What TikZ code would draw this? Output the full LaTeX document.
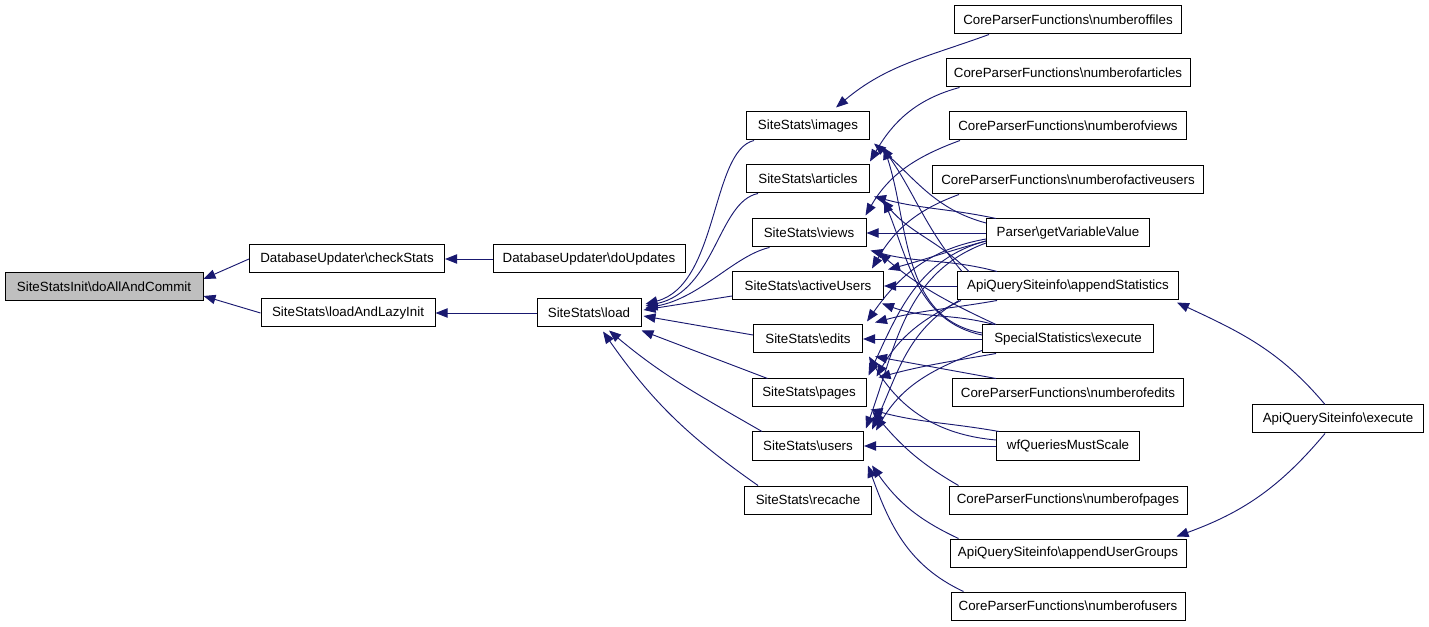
\documentclass[tikz,border=0pt]{standalone}
\usepackage{fontspec}
\setmainfont{Liberation Sans}
\usetikzlibrary{arrows.meta,calc}
\definecolor{navy}{HTML}{191970}
\definecolor{grayfill}{HTML}{BFBFBF}
\begin{document}
\begin{tikzpicture}[x=0.75pt,y=-0.75pt,
  box/.style={draw=black,fill=white,line width=0.75pt,minimum height=21pt,inner sep=0pt,font=\fontsize{10}{12}\selectfont},
  cx/.style={draw=navy,line width=0.7pt,-{Triangle[length=9pt,width=7pt]}}]
\useasboundingbox (0,0) rectangle (1429,627);
% nodes
\node[box,fill=grayfill,minimum width=148.5pt] (doall) at (104,287) {SiteStatsInit\textbackslash doAllAndCommit};
\node[box,minimum width=146.25pt] (checkstats) at (347,259) {DatabaseUpdater\textbackslash checkStats};
\node[box,minimum width=130.5pt] (lazy) at (348,313) {SiteStats\textbackslash loadAndLazyInit};
\node[box,minimum width=144pt] (doupdates) at (589,259) {DatabaseUpdater\textbackslash doUpdates};
\node[box,minimum width=78pt] (load) at (589,313) {SiteStats\textbackslash load};
\node[box,minimum width=92.25pt] (images) at (808,126) {SiteStats\textbackslash images};
\node[box,minimum width=92.25pt] (articles) at (808,179) {SiteStats\textbackslash articles};
\node[box,minimum width=85.5pt] (views) at (809,233) {SiteStats\textbackslash views};
\node[box,minimum width=113.25pt] (active) at (808,286) {SiteStats\textbackslash activeUsers};
\node[box,minimum width=81.75pt] (edits) at (808,339) {SiteStats\textbackslash edits};
\node[box,minimum width=85.5pt] (pages) at (809,393) {SiteStats\textbackslash pages};
\node[box,minimum width=83.25pt] (users) at (808,446) {SiteStats\textbackslash users};
\node[box,minimum width=95.25pt] (recache) at (808,500) {SiteStats\textbackslash recache};
\node[box,minimum width=170.25pt] (nf) at (1068,20) {CoreParserFunctions\textbackslash numberoffiles};
\node[box,minimum width=183pt] (na) at (1068,73) {CoreParserFunctions\textbackslash numberofarticles};
\node[box,minimum width=177.75pt] (nv) at (1068,126) {CoreParserFunctions\textbackslash numberofviews};
\node[box,minimum width=203.25pt] (nau) at (1068,180) {CoreParserFunctions\textbackslash numberofactiveusers};
\node[box,minimum width=122.25pt] (gv) at (1068,233) {Parser\textbackslash getVariableValue};
\node[box,minimum width=165.75pt] (as) at (1068,286) {ApiQuerySiteinfo\textbackslash appendStatistics};
\node[box,minimum width=128.25pt] (ss) at (1068,339) {SpecialStatistics\textbackslash execute};
\node[box,minimum width=173.25pt] (ne) at (1068,393) {CoreParserFunctions\textbackslash numberofedits};
\node[box,minimum width=107.25pt] (wq) at (1068,446) {wfQueriesMustScale};
\node[box,minimum width=178.5pt] (np) at (1068,500) {CoreParserFunctions\textbackslash numberofpages};
\node[box,minimum width=177pt] (aug) at (1068,553) {ApiQuerySiteinfo\textbackslash appendUserGroups};
\node[box,minimum width=175.5pt] (nu) at (1068,606) {CoreParserFunctions\textbackslash numberofusers};
\node[box,minimum width=128.25pt] (ae) at (1338,419) {ApiQuerySiteinfo\textbackslash execute};
% left part
\draw[cx] (checkstats.west) -- ($(doall.east)+(0,-8)$);
\draw[cx] (lazy.west) -- ($(doall.east)+(0,9)$);
\draw[cx] (doupdates) -- (checkstats);
\draw[cx] (load) -- (lazy);
% middle to load
\draw[cx] ($(images.south west)+(8,0)$) .. controls +(-43,10) and +(73,-19) .. ($(load.east)+(4,-9)$);
\draw[cx] ($(articles.south west)+(12,0)$) .. controls +(-40,8) and +(70,-15) .. ($(load.east)+(4,-7)$);
\draw[cx] ($(views.south west)+(18,0)$) .. controls +(-35,8) and +(55,-10) .. ($(load.east)+(4,-5)$);
\draw[cx] ($(active.west)+(0,10)$) -- ($(load.east)+(2,-3)$);
\draw[cx] ($(edits.west)+(0,-4)$) -- ($(load.east)+(2,3)$);
\draw[cx] ($(pages.north west)+(16,0)$) -- ($(load.south east)+(0,3)$);
\draw[cx] ($(users.north west)+(10,0)$) to[out=150,in=-40] ($(load.south)+(20,3)$);
\draw[cx] ($(recache.north west)+(14,0)$) to[out=145,in=-55] ($(load.south)+(14,4)$);
% CoreParserFunctions to middle
\draw[cx] ($(nf.south west)+(35,0)$) to[out=200,in=40] ($(images.north)+(28,-4)$);
\draw[cx] ($(na.south west)+(14,0)$) to[out=195,in=60] ($(articles.north east)+(0,-3)$);
\draw[cx] ($(nv.south west)+(11,0)$) to[out=200,in=60] ($(views.north east)+(-1,-3)$);
\draw[cx] ($(nau.south west)+(27,0)$) to[out=200,in=60] ($(active.north east)+(-12,-3)$);
\draw[cx] ($(ne.north west)+(44,0)$) -- ($(edits.south east)+(12,3)$);
\draw[cx] ($(np.north west)+(10,0)$) to[out=150,in=-50] ($(pages.south east)+(6,4)$);
\draw[cx] ($(aug.north west)+(9,0)$) to[out=155,in=-55] ($(users.south east)+(8,5)$);
\draw[cx] ($(nu.north west)+(13,0)$) to[out=155,in=-70] ($(users.south east)+(4,5)$);
% Parser getVariableValue
\draw[cx] ($(gv.west)+(0,-10)$) to[out=165,in=-40] ($(images.south east)+(4,3)$);
\draw[cx] ($(gv.north west)+(10,0)$) to[out=168,in=-15] ($(articles.south east)+(4,3)$);
\draw[cx] (gv.west) -- (views.east);
\draw[cx] ($(gv.west)+(0,8)$) to[out=195,in=15] ($(active.north east)+(4,-2)$);
\draw[cx] ($(gv.west)+(0,6)$) to[out=190,in=55] ($(edits.north east)+(4,-3)$);
\draw[cx] ($(gv.west)+(0,8)$) to[out=195,in=65] ($(pages.north east)+(2,-3)$);
\draw[cx] ($(gv.west)+(0,10)$) to[out=200,in=70] ($(users.north east)+(2,-3)$);
% ApiQuerySiteinfo appendStatistics
\draw[cx] ($(as.north west)+(5,0)$) to[out=130,in=-55] ($(images.south east)+(12,6)$);
\draw[cx] ($(as.north west)+(12,0)$) to[out=135,in=-50] ($(articles.south east)+(12,6)$);
\draw[cx] ($(as.north west)+(40,0)$) to[out=165,in=-15] ($(views.south east)+(4,3)$);
\draw[cx] (as.west) -- (active.east);
\draw[cx] ($(as.south west)+(40,0)$) to[out=190,in=15] ($(edits.north east)+(12,-2)$);
\draw[cx] ($(as.south west)+(4,0)$) to[out=205,in=60] ($(pages.north east)+(10,-2)$);
\draw[cx] ($(as.south west)+(2,0)$) to[out=210,in=65] ($(users.north east)+(8,-2)$);
% SpecialStatistics execute
\draw[cx] ($(ss.west)+(0,-6)$) to[out=170,in=-72] ($(images.south east)+(14,7)$);
\draw[cx] ($(ss.west)+(0,-4)$) to[out=168,in=-68] ($(articles.south east)+(14,7)$);
\draw[cx] ($(ss.north west)+(14,0)$) to[out=155,in=-40] ($(views.south east)+(12,5)$);
\draw[cx] ($(ss.north west)+(12,0)$) to[out=165,in=-20] ($(active.south east)+(-2,3)$);
\draw[cx] (ss.west) -- (edits.east);
\draw[cx] ($(ss.south west)+(14,0)$) to[out=190,in=15] ($(pages.north east)+(12,-1)$);
\draw[cx] ($(ss.south west)+(0,-3)$) to[out=200,in=60] ($(users.north east)+(12,-1)$);
% wfQueriesMustScale
\draw[cx] ($(wq.west)+(0,-6)$) to[out=175,in=-60] ($(edits.south east)+(6,3)$);
\draw[cx] ($(wq.north west)+(3,0)$) to[out=170,in=-15] ($(pages.south east)+(4,2)$);
\draw[cx] (wq.west) -- (users.east);
% ApiQuerySiteinfo execute
\draw[cx] ($(ae.north west)+(73,0)$) to[out=130,in=-25] ($(as.south east)+(-2,2)$);
\draw[cx] ($(ae.south west)+(73,0)$) to[out=-130,in=20] ($(aug.north east)+(-10,-2)$);
\end{tikzpicture}
\end{document}
